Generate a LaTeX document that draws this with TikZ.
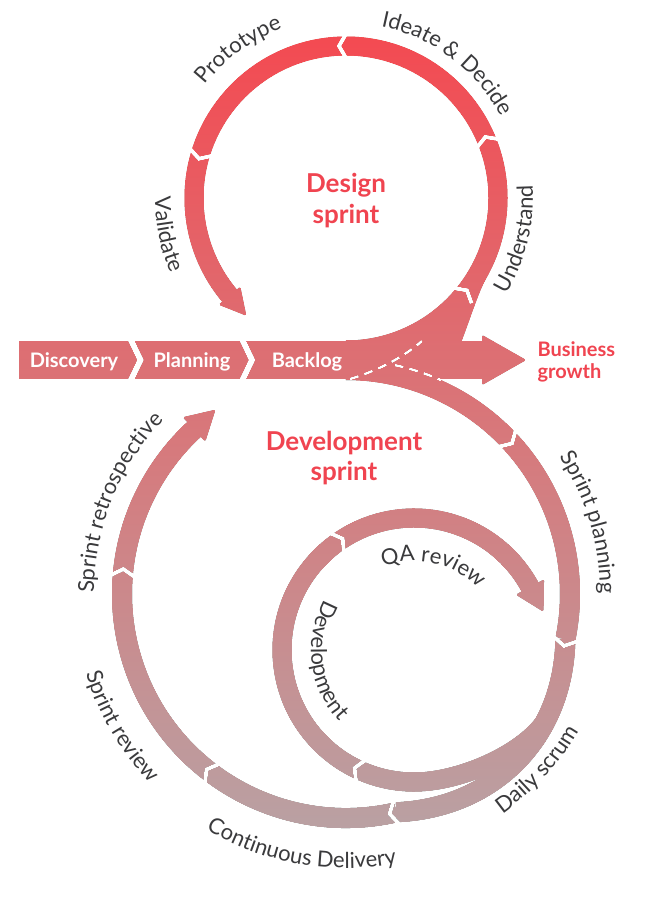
\documentclass[tikz,border=0pt]{standalone}
\usepackage{fontspec}
\setmainfont{Lato}
\usetikzlibrary{calc,decorations.text}
\definecolor{gtop}{RGB}{246,70,78}
\definecolor{gmid}{RGB}{214,122,125}
\definecolor{gbot}{RGB}{180,168,170}
\definecolor{lbl}{RGB}{58,58,60}
\definecolor{ttl}{RGB}{240,68,80}
\newcommand{\lblfont}{\fontsize{22}{26}\selectfont}
\newcommand{\chev}[4]{\draw[chevline] ($(#1)+(#2:#3+12)$) -- ($(#1)+(#2:#3)+({#2+(#4)*90}:7)$) -- ($(#1)+(#2:#3-12)$);}
\newcommand{\ahead}[6]{\fill[rounded corners=1.5pt] ($(#1)+(#2:#3-#5)$) -- ($(#1)+(#2:#3)+({#2+(#4)*90}:#6)$) -- ($(#1)+(#2:#3+#5)$) -- cycle;}
\newcommand{\arclabel}[5]{\path[decorate, decoration={text along path, text align=center, text color=lbl, text={|\lblfont|#5}}] ($(#1)+(#3:#2)$) arc[start angle=#3, end angle=#4, radius=#2];}
\tikzset{
  dring/.style={line width=19pt, line cap=butt},
  ering/.style={line width=20pt, line cap=butt},
  chevline/.style={white, line width=4pt, line cap=butt, line join=miter},
  bandchev/.style={white, line width=6pt, line cap=butt, line join=miter},
  dashline/.style={white, line width=2.5pt, dash pattern=on 9pt off 6pt},
  title/.style={text=ttl, font=\bfseries\fontsize{26}{30}\selectfont, anchor=base},
  bandtext/.style={text=white, font=\bfseries\fontsize{20}{24}\selectfont, anchor=base}
}
\begin{document}
\begin{tikzpicture}[x=1pt,y=1pt]
\useasboundingbox (0,0) rectangle (663,-901);
\fill[white] (0,0) rectangle (663,-901);
\coordinate (D) at (346,-198);
\coordinate (E) at (346,-594);
\coordinate (I) at (414,-650);
\coordinate (splitA) at (546.5,-719.3);
\coordinate (splitB) at (430.1,-781);
% ---------- band shapes in black ----------
\begin{scope}[black]
  % backlog band and business growth arrow
  \fill (19,-341) rectangle (484,-379);
  \fill[rounded corners=2pt] (482,-335) -- (526,-360) -- (482,-385) -- cycle;
  % design ring
  \draw[dring] ($(D)+(-90:152)$) arc[start angle=-90, end angle=221, radius=152];
  \ahead{D}{220}{152}{1}{14}{26}
  % widening of the design ring where it joins the band
  \fill ($(D)+(-30:161.5)$) .. controls (478.4,-291.8) and (468,-325) .. (460,-345)
     -- (346,-345) -- ($(D)+(-90:143)$) arc[start angle=-90, end angle=-30, radius=143] -- cycle;
  % development outer ring
  \draw[ering] ($(E)+(90:224)$) arc[start angle=90, end angle=-11.6, radius=224];
  \draw[ering] plot[variable=\t, domain=-77:-11.6, samples=50, smooth]
     ({346+(224+15*sin(180*(-11.6-\t)/65.4))*cos(\t)}, {-594+(224+15*sin(180*(-11.6-\t)/65.4))*sin(\t)});
  \draw[ering] ($(E)+(-77:224)$) arc[start angle=-77, end angle=-228, radius=224];
  \ahead{E}{-227.3}{224}{-1}{16.5}{29}
  % inner ring, leaving the outer ring
  \draw[dring] (splitA) .. controls (528,-749) and (474.8,-775.5) .. (splitB)
     arc[start angle=-83, end angle=-332, radius=132];
  \ahead{I}{-331.5}{132}{-1}{16}{28}
\end{scope}
% ---------- white gaps ----------
\draw[bandchev] (129.5,-337) -- (140.5,-360) -- (129.5,-383);
\draw[bandchev] (241,-337) -- (252,-360) -- (241,-383);
\chev{D}{-40}{152}{1}
\chev{D}{21}{152}{1}
\chev{D}{90}{152}{1}
\chev{D}{162.4}{152}{1}
\chev{E}{44}{224}{-1}
\chev{E}{-11.6}{224}{-1}
\chev{E}{-77}{224}{-1}
\chev{E}{-126.7}{224}{-1}
\chev{E}{-184.6}{224}{-1}
\chev{I}{-113.7}{132}{-1}
\chev{I}{-234.3}{132}{-1}
\draw[dashline] (350,-379) .. controls (380,-370) and (405,-356) .. (422,-341);
\draw[dashline] ($(E)+(78:234)$) arc[start angle=78, end angle=66, radius=234];
% ---------- gradient colouring ----------
\begin{scope}[blend mode=lighten]
  \shade[top color=gtop, bottom color=gbot, middle color=gmid] (0,0) rectangle (663,-901);
\end{scope}
% ---------- texts ----------
\node[bandtext] (disc) at (74,-367) {Discovery};
\node[bandtext] (plan) at (192,-367) {Planning};
\node[bandtext] (back) at (307,-367) {Backlog};
\node[title] (ds1) at (346,-193) {Design};
\node[title] (ds2) at (346,-223) {sprint};
\node[title] (dv1) at (344,-450) {Development};
\node[title] (dv2) at (344,-480) {sprint};
\node[text=ttl, font=\bfseries\fontsize{20}{24}\selectfont, anchor=base west] (bg1) at (534,-356) {Business};
\node[text=ttl, font=\bfseries\fontsize{20}{24}\selectfont, anchor=base west] (bg2) at (534,-378) {growth};
\arclabel{D}{181}{156}{96}{Prototype}
\arclabel{D}{175}{93}{13}{Ideate {\&} Decide}
\arclabel{D}{187}{-50}{23}{Understand}
\arclabel{D}{191}{160}{223}{Validate}
\arclabel{E}{254}{56}{-23}{Sprint planning}
\arclabel{E}{270}{-75}{-10}{Daily scrum}
\arclabel{E}{274}{-140}{-60}{Continuous Delivery}
\arclabel{E}{272}{180}{241}{Sprint review}
\arclabel{E}{252}{200}{116}{Sprint retrospective}
\arclabel{I}{103}{140}{234}{Development}
\arclabel{I}{89}{125}{29}{QA review}
\end{tikzpicture}
\end{document}
